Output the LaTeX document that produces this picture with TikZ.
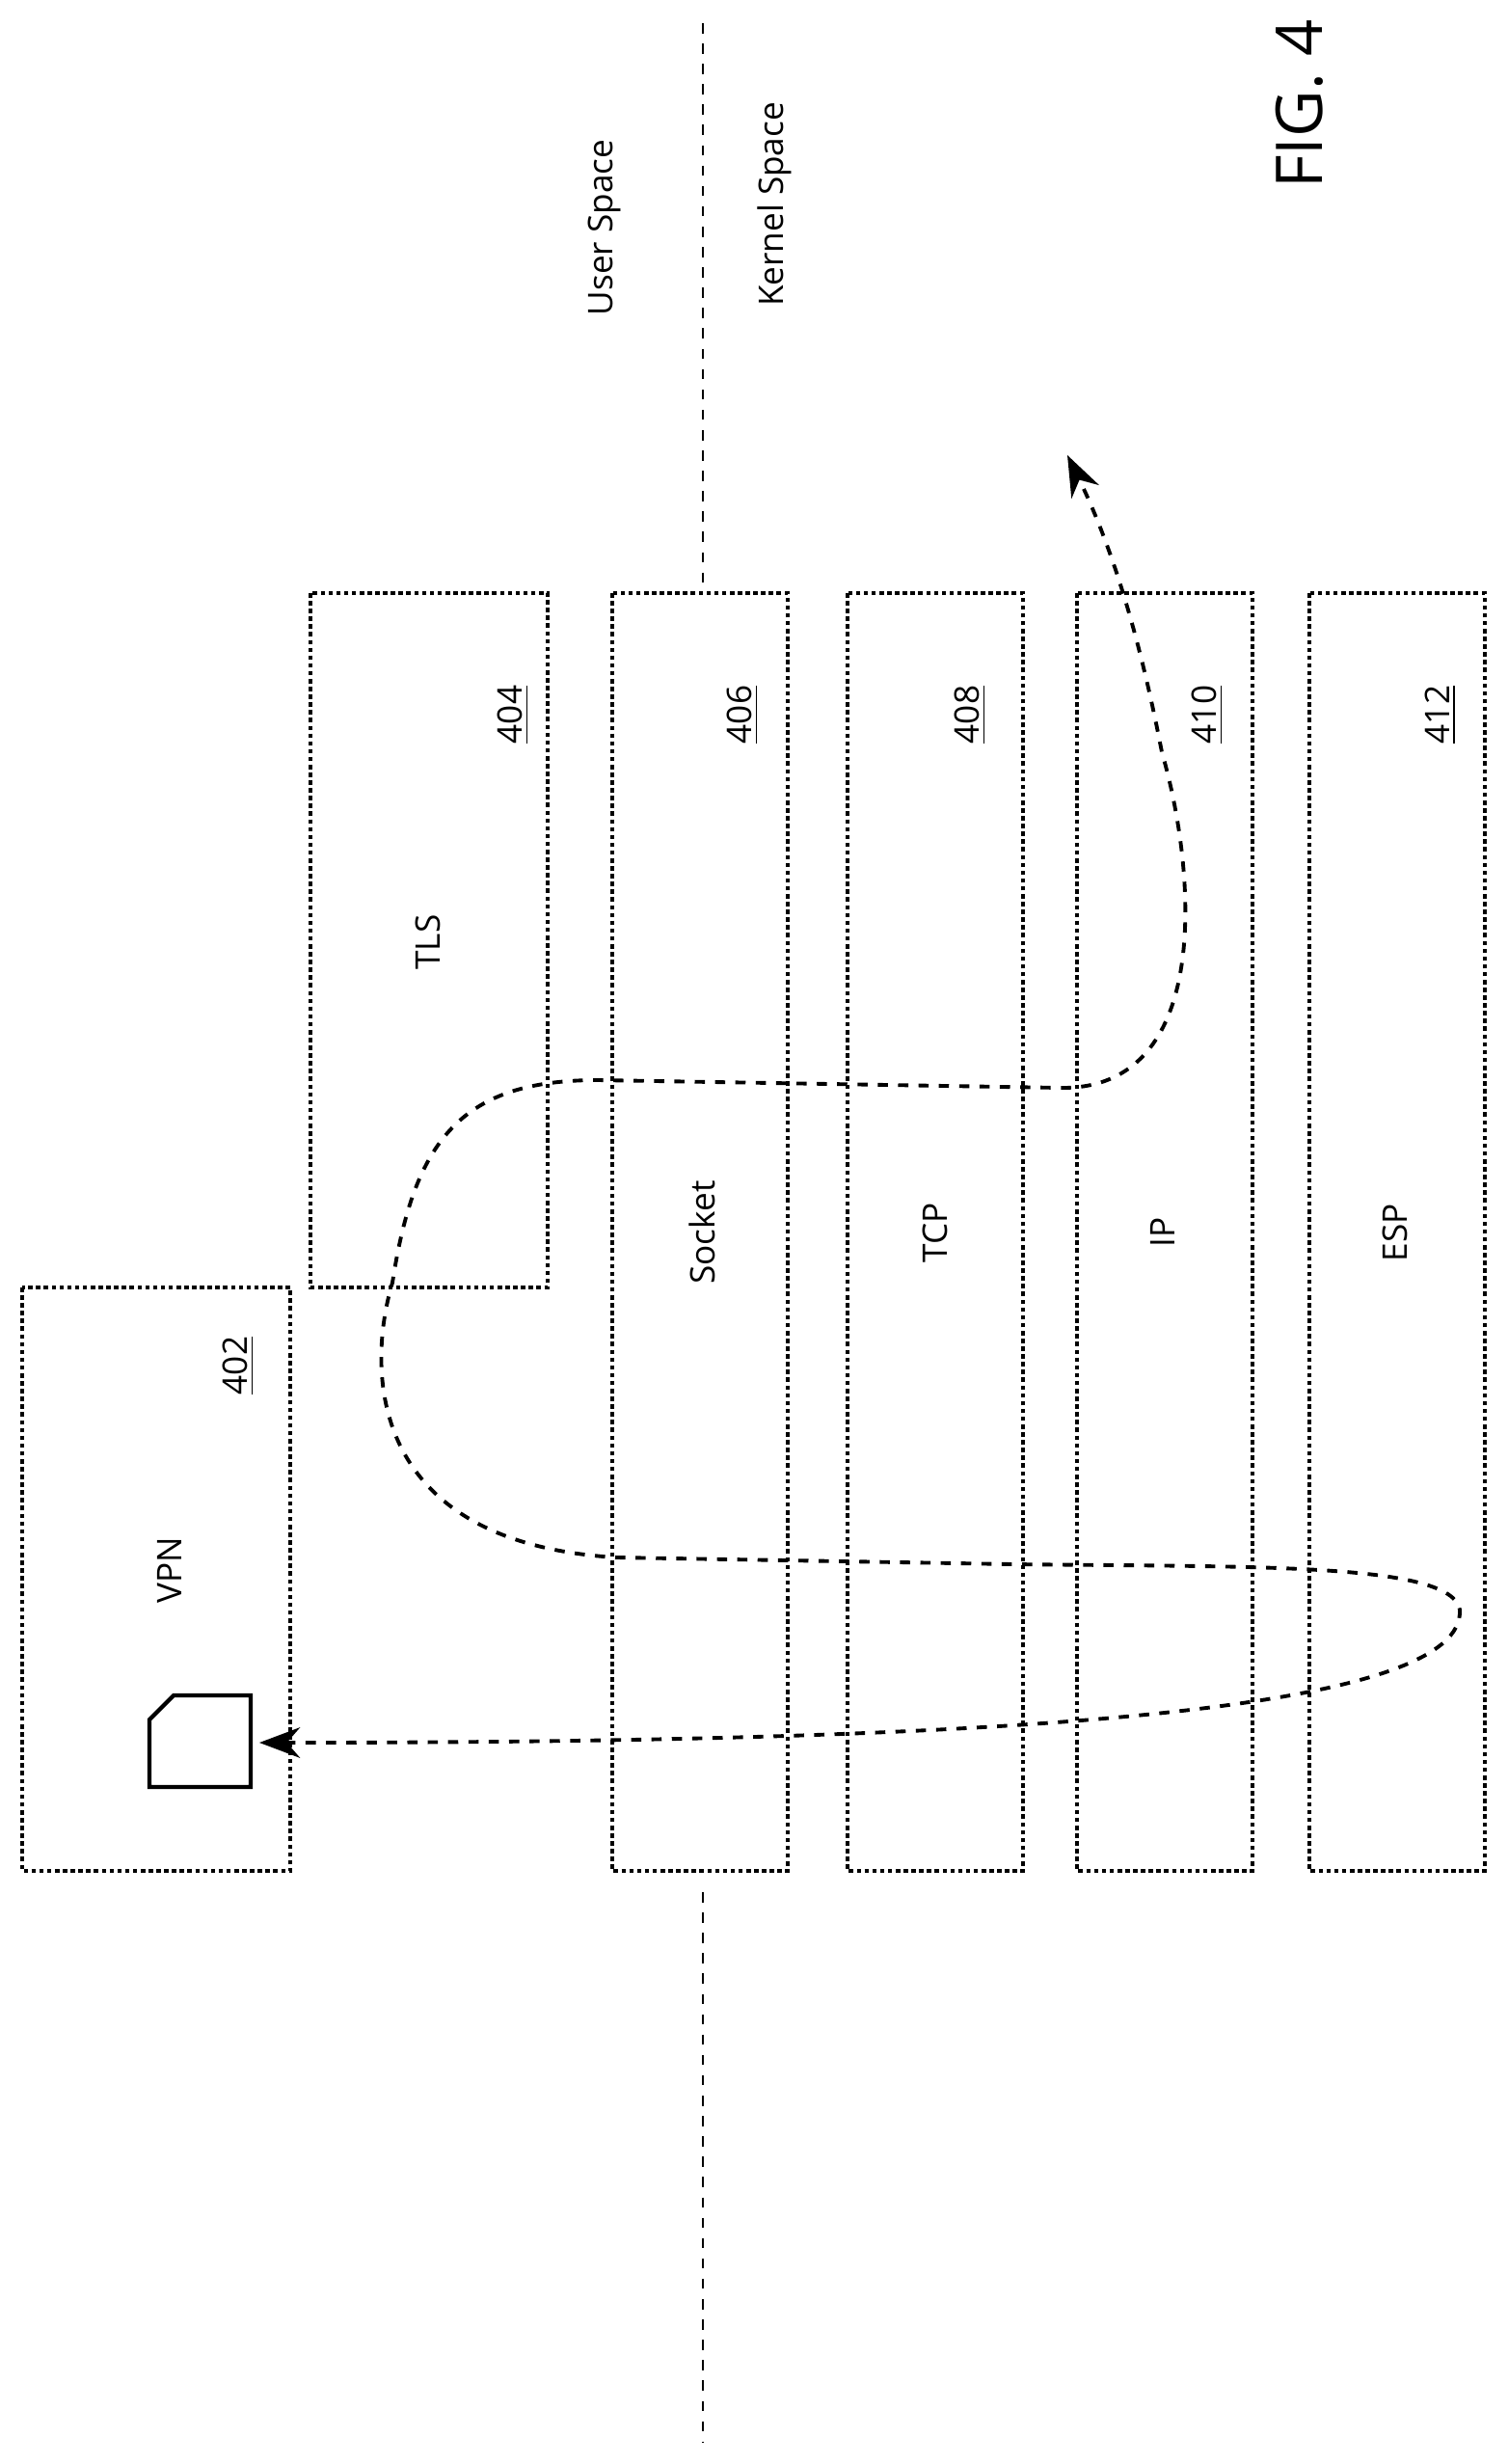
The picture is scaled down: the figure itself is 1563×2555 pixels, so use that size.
\documentclass[tikz,border=0pt]{standalone}
\usepackage{fontspec}
\setmainfont{Open Sans}
\usetikzlibrary{arrows.meta}
\tikzset{
  layer/.style={draw, densely dotted, line width=1.3pt},
  lbl/.style={rotate=90, font=\fontsize{10}{12}\selectfont},
  num/.style={rotate=90, font=\fontsize{10}{12}\selectfont},
}
\newcommand{\bx}[5]{\draw[layer] (#1,#2) rectangle (#3,#4) node[pos=0,anchor=south west,inner sep=0] (#5) {};}
\begin{document}
\begin{tikzpicture}[x=0.01cm, y=-0.01cm]
  \useasboundingbox (0,0) rectangle (1563,2555);
  % space divider
  \draw[dashed, line width=0.6pt] (729,24) -- (729,610);
  \draw[dashed, line width=0.6pt] (729,1962) -- (729,2532);
  \node[lbl] (user) at (627,236) {User Space};
  \node[lbl] (kernel) at (803,212) {Kernel Space};
  \node[rotate=90, font=\fontsize{19}{23}\selectfont] (fig) at (1348,108) {FIG. 4};
  % layers
  \bx{23}{1335}{301}{1940}{vpn}
  \bx{322}{615}{568}{1335}{tls}
  \bx{635}{615}{817}{1940}{sock}
  \bx{879}{615}{1061}{1940}{tcp}
  \bx{1117}{615}{1299}{1940}{ip}
  \bx{1358}{615}{1540}{1940}{esp}
  \node[lbl] at (176,1628) {VPN};     \node[num] at (247,1416) {\underline{402}};
  \node[lbl] at (444,977)  {TLS};     \node[num] at (532,741)  {\underline{404}};
  \node[lbl] at (728,1278) {Socket};  \node[num] at (770,741)  {\underline{406}};
  \node[lbl] at (970,1278) {TCP};     \node[num] at (1006,741) {\underline{408}};
  \node[lbl] at (1206,1278) {IP};     \node[num] at (1252,741) {\underline{410}};
  \node[lbl] at (1447,1278) {ESP};    \node[num] at (1494,741) {\underline{412}};
  % packet
  \draw[line width=1.2pt] (180,1758) -- (260,1758) -- (260,1853) -- (155,1853) -- (155,1783) -- cycle;
  \coordinate (pkt) at (269,1807);
  \coordinate (out) at (1107,472);
  \draw[dashed, line width=1.1pt, {Stealth[length=12pt,width=9pt]}-{Stealth[length=12pt,width=9pt]}]
    (pkt) .. controls (1100,1807) and (1520,1770) .. (1514,1669)
    .. controls (1505,1620) and (1300,1625) .. (1050,1622) -- (640,1615)
    .. controls (380,1600) and (380,1420) .. (407,1330)
    .. controls (430,1180) and (480,1120) .. (620,1120) -- (1100,1128)
    .. controls (1260,1130) and (1240,900) .. (1205,780)
    .. controls (1180,650) and (1150,560) .. (out);
\end{tikzpicture}
\end{document}
